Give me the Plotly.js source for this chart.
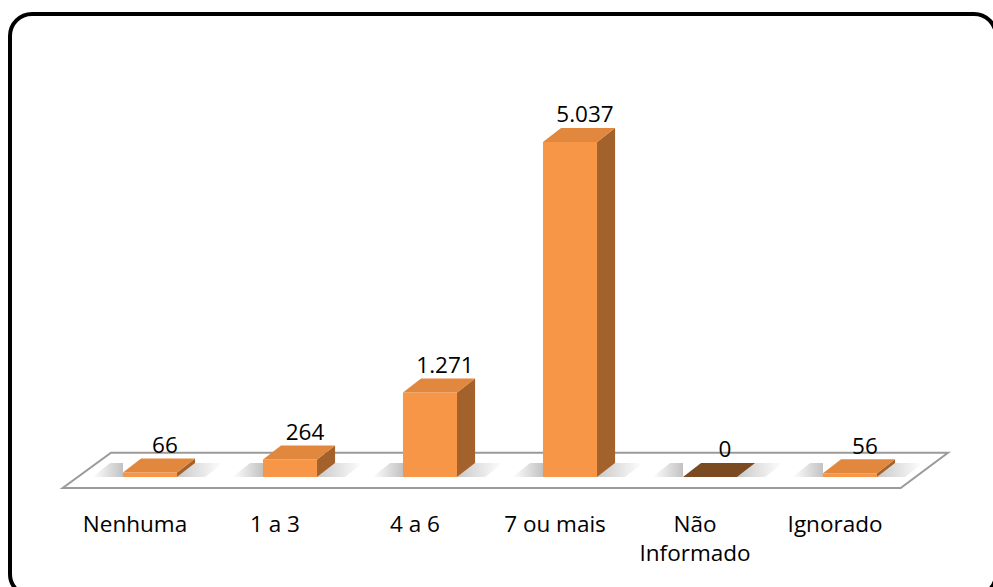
<!DOCTYPE html>
<html>
<head>
<meta charset="utf-8">
<script src="https://cdn.plot.ly/plotly-3.0.1.min.js"></script>
<style>
  html, body { margin: 0; padding: 0; background: #fff; }
  #wrap { position: relative; width: 993px; height: 587px; overflow: hidden; }
  #chart { position: absolute; left: 0; top: 0; width: 993px; height: 587px; }
  #frame { position: absolute; left: 8px; top: 12px; width: 990px; height: 586px;
           border: 4px solid #000; border-radius: 24px; box-sizing: border-box; pointer-events: none; }
</style>
</head>
<body>
<div id="wrap"><div id="chart"></div><div id="frame"></div></div>
<script>
const categories = ["Nenhuma", "1 a 3", "4 a 6", "7 ou mais", "Não<br>Informado", "Ignorado"];
const values = [66, 264, 1271, 5037, 0, 56];
const valueLabels = ["66", "264", "1.271", "5.037", "0", "56"];

const idx = categories.map((c, i) => i);
const barW = 0.386, dx = 0.129, dy = 210;
const frontColor = "#F79646", sideColor = "#A3622C";
const topColors = values.map(v => v === 0 ? "#7A4A20" : "#E2883E");
const FONT = "'Open Sans', 'Noto Sans', sans-serif";
const FS = 22.5;

const traces = [];
// front faces
traces.push({
  type: "bar", x: idx, y: values, width: barW,
  marker: { color: frontColor, line: { width: 0 } },
  hoverinfo: "skip", showlegend: false
});
// floor shadows (left and right of each bar)
const shadeL = [[0, "rgba(120,120,120,0)"], [1, "rgba(120,120,120,0.45)"]];
const shadeR = [[0, "rgba(120,120,120,0.4)"], [1, "rgba(120,120,120,0)"]];
idx.forEach((i) => {
  const l = i - barW / 2, r = i + barW / 2;
  traces.push({ type: "scatter", mode: "lines",
    x: [l - 0.22, l, l, l - 0.22 + dx, l - 0.22], y: [0, 0, dy, dy, 0],
    fill: "toself", fillgradient: { type: "horizontal", colorscale: shadeL },
    line: { width: 0, color: "rgba(0,0,0,0)" }, hoverinfo: "skip", showlegend: false });
  traces.push({ type: "scatter", mode: "lines",
    x: [r, r + 0.2, r + 0.2 + dx, r + dx, r], y: [0, 0, dy, dy, 0],
    fill: "toself", fillgradient: { type: "horizontal", colorscale: shadeR },
    line: { width: 0, color: "rgba(0,0,0,0)" }, hoverinfo: "skip", showlegend: false });
});
// side faces
const sx = [], sy = [];
idx.forEach((i) => {
  const v = values[i], r = i + barW / 2;
  sx.push(r, r + dx, r + dx, r, r, null);
  sy.push(0, dy, v + dy, v, 0, null);
});
traces.push({ type: "scatter", mode: "lines", x: sx, y: sy, fill: "toself",
  fillcolor: sideColor, line: { width: 0, color: sideColor }, hoverinfo: "skip", showlegend: false });
// top faces
idx.forEach((i) => {
  const v = values[i], l = i - barW / 2, r = i + barW / 2;
  traces.push({ type: "scatter", mode: "lines",
    x: [l, r, r + dx, l + dx, l], y: [v, v, v + dy, v + dy, v],
    fill: "toself", fillcolor: topColors[i], line: { width: 0, color: topColors[i] },
    hoverinfo: "skip", showlegend: false });
});
// value labels
traces.push({ type: "scatter", mode: "text",
  x: idx.map(i => i + 0.107), y: values.map(v => v + dy),
  text: valueLabels, textposition: "top center",
  textfont: { family: FONT, size: FS, color: "#000" },
  cliponaxis: false, hoverinfo: "skip", showlegend: false });

const layout = {
  width: 993, height: 587,
  margin: { l: 80, r: 73, t: 60, b: 92 },
  paper_bgcolor: "rgba(0,0,0,0)", plot_bgcolor: "rgba(0,0,0,0)",
  font: { family: FONT, size: FS, color: "#000" },
  xaxis: {
    range: [-0.5, 5.5], tickvals: idx.map(i => i - 0.107), ticktext: categories,
    showgrid: false, zeroline: false, showline: false, ticks: "",
    ticklabelstandoff: 13, tickfont: { family: FONT, size: FS, color: "#000" }
  },
  yaxis: { range: [-271, 6270], visible: false, showgrid: false, zeroline: false },
  shapes: [{
    type: "path", xref: "paper", yref: "paper", layer: "below",
    path: "M0.0369,0.0972 L1.0333,0.0972 L0.977,0.0161 L-0.0206,0.0161 Z",
    fillcolor: "#FFFFFF", line: { color: "#9A9A9A", width: 2 }
  }],
  showlegend: false
};

Plotly.newPlot("chart", traces, layout, { displayModeBar: false, staticPlot: true });
</script>
</body>
</html>
